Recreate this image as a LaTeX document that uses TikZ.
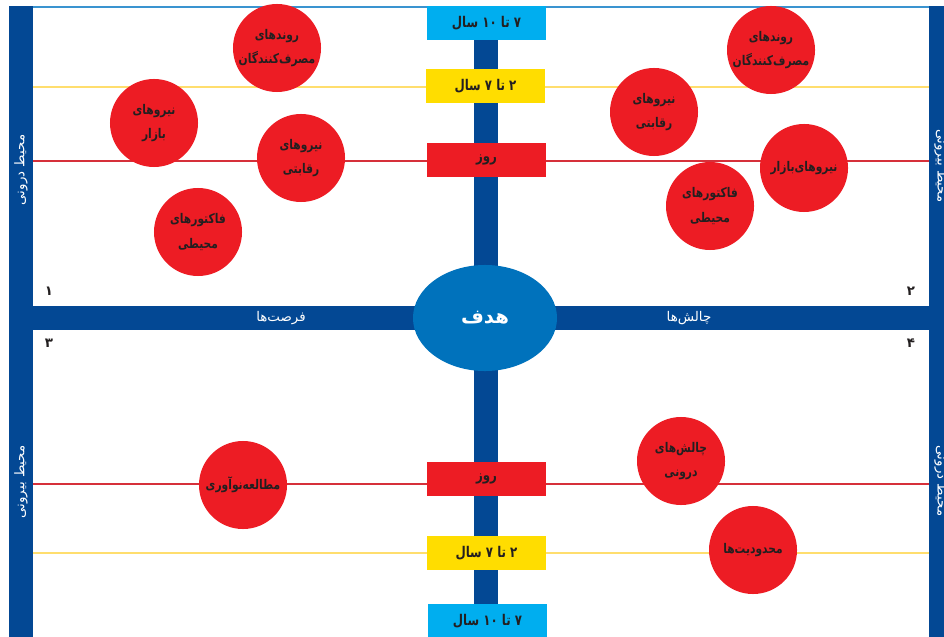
\documentclass[tikz,border=0pt]{standalone}
\usepackage{fontspec}
\usepackage{xcolor}
\newfontfamily\arabicfont[Script=Arabic]{DejaVu Sans}
\newfontfamily\arabicnarrow[Script=Arabic,FakeStretch=0.8]{DejaVu Sans}
\TeXXeTstate=1
\usetikzlibrary{positioning,shapes.geometric}
\definecolor{barblue}{RGB}{3,72,148}
\definecolor{goalblue}{RGB}{0,114,188}
\definecolor{longbox}{RGB}{0,174,239}
\definecolor{midbox}{RGB}{255,221,0}
\definecolor{shortbox}{RGB}{237,28,36}
\definecolor{midline}{RGB}{255,222,110}
\definecolor{shortline}{RGB}{214,48,58}
\definecolor{topline}{RGB}{58,148,208}
\definecolor{inktext}{RGB}{35,31,32}
\newcommand{\fatxt}[1]{\beginR#1\endR}

\tikzset{
  bar/.style={fill=barblue,draw=none,inner sep=0pt,outer sep=0pt},
  timebox/.style={draw=none,minimum width=2.975cm,minimum height=0.85cm,inner sep=0pt,
    text=inktext,font=\arabicnarrow\bfseries\fontsize{10.5}{12}\selectfont},
  factor/.style={circle,fill=shortbox,minimum size=2.2cm,inner sep=0pt,align=center,
    text=inktext,font=\arabicnarrow\bfseries\fontsize{9.5}{17.5}\selectfont},
  barlabel/.style={text=white,font=\arabicfont\fontsize{9.5}{12}\selectfont},
  quadnum/.style={text=inktext,font=\arabicfont\bfseries\fontsize{9.5}{10}\selectfont},
  midguide/.style={midline,line width=1.1pt},
  shortguide/.style={shortline,line width=1.1pt}
}

\begin{document}
\begin{tikzpicture}[x=0.025cm,y=-0.025cm]
  \useasboundingbox (0,0) rectangle (944,636);
  \fill[white] (0,0) rectangle (944,636);

  \coordinate (edge) at (0,6.6);
  \coordinate (ytop) at (0,87);
  \coordinate (rtop) at (0,161);
  \coordinate (rbot) at (0,484);
  \coordinate (ybot) at (0,553);

  \node[bar,minimum width=0.6cm,minimum height=15.85cm] (lbar) at (21,323) {};
  \node[bar,minimum width=0.6cm,minimum height=15.85cm] (rbar) at (941,323) {};

  \draw[topline,line width=1.4pt] (lbar.east |- edge) -- (rbar.west |- edge);
  \draw[midguide] (lbar.east |- ytop) -- (rbar.west |- ytop);
  \draw[shortguide] (lbar.east |- rtop) -- (rbar.west |- rtop);
  \draw[shortguide] (lbar.east |- rbot) -- (rbar.west |- rbot);
  \draw[midguide] (lbar.east |- ybot) -- (rbar.west |- ybot);

  \node[bar,minimum width=23.6cm,minimum height=0.6cm] (hbar) at (481,318) {};
  \node[bar,minimum width=0.6cm,minimum height=14.95cm] (vbar) at (486,322) {};

  \node[rotate=90,barlabel] at (21,170) {\fatxt{محیط درونی}};
  \node[rotate=90,barlabel] at (21,482) {\fatxt{محیط بیرونی}};
  \node[rotate=-90,barlabel] at (941,166) {\fatxt{محیط بیرونی}};
  \node[rotate=-90,barlabel] at (941,481) {\fatxt{محیط درونی}};
  \node[barlabel] (opp) at (281,318) {\fatxt{فرصت‌ها}};
  \node[barlabel] (chal) at (689,318) {\fatxt{چالش‌ها}};

  \node[ellipse,fill=goalblue,minimum width=3.6cm,minimum height=2.65cm,text=white,
    font=\arabicfont\bfseries\fontsize{14}{16}\selectfont] (goal) at (485,318) {\fatxt{هدف}};

  \node[timebox,fill=longbox] (long1) at (486.5,23) {\fatxt{۷ تا ۱۰ سال}};
  \node[timebox,fill=midbox] (mid1) at (485.5,86) {\fatxt{۲ تا ۷ سال}};
  \node[timebox,fill=shortbox] (short1) at (486.5,160) {\fatxt{روز}};
  \node[timebox,fill=shortbox] (short2) at (486.5,479) {\fatxt{روز}};
  \node[timebox,fill=midbox] (mid2) at (486.5,553) {\fatxt{۲ تا ۷ سال}};
  \node[timebox,fill=longbox] (long2) at (487.5,621) {\fatxt{۷ تا ۱۰ سال}};

  \node[quadnum] (q1) at (49,291) {\fatxt{۱}};
  \node[quadnum] (q2) at (911,291) {\fatxt{۲}};
  \node[quadnum] (q3) at (49,343) {\fatxt{۳}};
  \node[quadnum] (q4) at (911,343) {\fatxt{۴}};

  \node[factor] (trendA) at (277,48) {\fatxt{روندهای}\\\fatxt{مصرف‌کنندگان}};
  \node[factor] (marketA) at (154,123) {\fatxt{نیروهای}\\\fatxt{بازار}};
  \node[factor] (rivalA) at (301,158) {\fatxt{نیروهای}\\\fatxt{رقابتی}};
  \node[factor] (envA) at (198,232) {\fatxt{فاکتورهای}\\\fatxt{محیطی}};

  \node[factor] (trendB) at (771,50) {\fatxt{روندهای}\\\fatxt{مصرف‌کنندگان}};
  \node[factor] (rivalB) at (654,112) {\fatxt{نیروهای}\\\fatxt{رقابتی}};
  \node[factor] (marketB) at (804,168) {\fatxt{نیروهای‌بازار}};
  \node[factor] (envB) at (710,206) {\fatxt{فاکتورهای}\\\fatxt{محیطی}};

  \node[factor] (innov) at (243,485) {\fatxt{مطالعه‌نوآوری}};
  \node[factor] (inner) at (681,461) {\fatxt{چالش‌های}\\\fatxt{درونی}};
  \node[factor] (limit) at (753,550) {\fatxt{محدودیت‌ها}};
\end{tikzpicture}
\end{document}
